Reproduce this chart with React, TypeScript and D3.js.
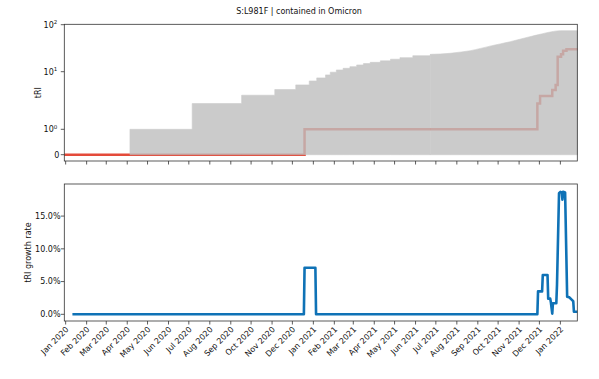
import React from 'react';
import * as d3 from 'd3';

// values
const parseDay = d3.utcParse('%Y-%m-%d');

// grey band: total tRI, stepped part (daily counts)
const greyStepDates = [
  '2020-04-05', '2020-07-06', '2020-09-17', '2020-11-05', '2020-12-06', '2020-12-26',
  '2021-01-06', '2021-01-19', '2021-01-26', '2021-02-04', '2021-02-14', '2021-02-24',
  '2021-03-06', '2021-03-16', '2021-03-26', '2021-04-10', '2021-04-25', '2021-05-09',
  '2021-05-28', '2021-06-23',
];
const greyStepValues = [
  1, 2.8, 3.9, 4.9, 5.9, 6.9,
  7.8, 8.8, 9.8, 10.9, 11.8, 12.8,
  13.9, 14.9, 15.8, 17, 18.4, 19.9,
  21.9, 23.4,
];
// grey band: smooth part
const greySmoothDates = [
  '2021-06-23', '2021-07-22', '2021-08-05', '2021-08-21', '2021-09-05', '2021-09-19',
  '2021-10-04', '2021-10-19', '2021-11-02', '2021-11-17', '2021-11-30', '2021-12-12',
  '2021-12-22', '2022-01-01', '2022-01-26',
];
const greySmoothValues = [
  23.4, 24.6, 26, 28, 31.3, 35,
  39, 43.5, 49, 55.5, 61.5, 67.6,
  72, 74.5, 74.5,
];

// red line: tRI of the mutation
const redDates = [
  '2019-12-30', '2020-12-19', '2021-11-28', '2021-12-02', '2021-12-20', '2021-12-25',
  '2021-12-28', '2022-01-02', '2022-01-05', '2022-01-10', '2022-01-26',
];
const redValues = [0, 1, 2.8, 3.8, 4.8, 5.9, 20.8, 23.4, 28, 30, 30];

// blue line: tRI growth rate (%)
const growthDates = [
  '2020-01-11', '2020-12-18', '2020-12-19', '2021-01-04', '2021-01-05', '2021-11-28',
  '2021-11-29', '2021-12-05', '2021-12-06', '2021-12-13', '2021-12-14', '2021-12-17',
  '2021-12-18', '2021-12-20', '2021-12-21', '2021-12-26', '2021-12-27', '2021-12-30',
  '2022-01-01', '2022-01-03', '2022-01-04', '2022-01-05', '2022-01-08', '2022-01-11',
  '2022-01-14', '2022-01-18', '2022-01-20', '2022-01-21', '2022-01-26',
];
const growthValues = [
  0, 0, 7.1, 7.1, 0, 0,
  3.5, 3.5, 6.0, 6.0, 2.4, 2.4,
  1.8, 0.1, 1.7, 1.7, 4.5, 18.5,
  18.7, 18.6, 17.5, 18.7, 18.6, 2.7,
  2.6, 2.2, 2.0, 0.4, 0.4,
];

const topTicks = [0, 1, 10, 100];
const topTickExp = ['', '0', '1', '2'];
const growthTicks = [0, 5, 10, 15];

const W = 599;
const H = 379;
const left = 64.3;
const right = 577.3;
const top1 = 24.3, bottom1 = 161;
const top2 = 184, bottom2 = 321;
const font = 'DejaVu Sans, sans-serif';
const fs = 8;
const axisColor = '#333';

type Pt = { date: Date; value: number };
const toSeries = (dates: string[], vals: number[]): Pt[] =>
  dates.map((d, i) => ({ date: parseDay(d) as Date, value: vals[i] }));

// y of the upper panel: linear below 1, logarithmic above
const tri = (v: number) => (v < 1 ? v - 1 : Math.log10(v));

export default function App() {
  const greyStep = toSeries(greyStepDates, greyStepValues);
  const greySmooth = toSeries(greySmoothDates, greySmoothValues);
  const red = toSeries(redDates, redValues);
  const growth = toSeries(growthDates, growthValues);

  const x = d3.scaleUtc()
    .domain([parseDay('2019-12-30') as Date, parseDay('2022-01-26') as Date])
    .range([left, right]);

  const yTop = d3.scaleLinear().domain([-1, 0, 1, 2]).range([154.7, 129.3, 71.7, 24.7]);
  const yBot = d3.scaleLinear().domain([-1.02, 19.9]).range([bottom2, top2]);

  const area = d3.area<Pt>()
    .x(d => x(d.date))
    .y0(yTop(tri(0)))
    .y1(d => yTop(tri(d.value)));

  const redLine = d3.line<Pt>()
    .x(d => x(d.date))
    .y(d => yTop(tri(d.value)))
    .curve(d3.curveStepAfter);

  const blueLine = d3.line<Pt>()
    .x(d => x(d.date))
    .y(d => yBot(d.value));

  const months = d3.utcMonth.range(parseDay('2020-01-01') as Date, parseDay('2022-01-02') as Date);
  const fmt = d3.utcFormat('%b %Y');

  return (
    <svg width={W} height={H} style={{ position: 'absolute', left: 0, top: 0, background: '#fff' }}
      fontFamily={font} fontSize={fs}>
      <text x={299} y={13.5} textAnchor="middle" fill="#111">S:L981F | contained in Omicron</text>

      {/* upper panel */}
      <path d={redLine(red) || ''} fill="none" stroke="#e44b3a" strokeWidth={2.5} />
      <g opacity={0.8}>
        <path d={area.curve(d3.curveStepAfter)(greyStep) || ''} fill="#bfbfbf" stroke="#bfbfbf" strokeWidth={0.6} />
        <path d={area.curve(d3.curveMonotoneX)(greySmooth) || ''} fill="#bfbfbf" stroke="#bfbfbf" strokeWidth={0.6} />
      </g>
      <rect x={left} y={top1} width={right - left} height={bottom1 - top1} fill="none" stroke={axisColor} strokeWidth={0.8} />
      {topTicks.map((t, i) => (
        <g key={t} transform={`translate(0,${yTop(tri(t))})`}>
          <line x1={left - 3.5} x2={left} stroke={axisColor} strokeWidth={0.8} />
          {topTickExp[i] === '' ? (
            <text x={left - 5} dy="0.35em" textAnchor="end" fill="#111">0</text>
          ) : (
            <text x={left - 7} dy="0.35em" textAnchor="end" fill="#111">
              10<tspan fontSize={5.5} dy="-3.2">{topTickExp[i]}</tspan>
            </text>
          )}
        </g>
      ))}
      {months.map(m => (
        <line key={+m} x1={x(m)} x2={x(m)} y1={bottom1} y2={bottom1 + 3.5} stroke={axisColor} strokeWidth={0.8} />
      ))}
      <text transform={`translate(38,${(top1 + bottom1) / 2}) rotate(-90)`} textAnchor="middle" dy="0.35em" fill="#111">tRI</text>

      {/* lower panel */}
      <path d={blueLine(growth) || ''} fill="none" stroke="#0f72b6" strokeWidth={2.6} strokeLinejoin="round" />
      <rect x={left} y={top2} width={right - left} height={bottom2 - top2} fill="none" stroke={axisColor} strokeWidth={0.8} />
      {growthTicks.map(t => (
        <g key={t} transform={`translate(0,${yBot(t)})`}>
          <line x1={left - 3.5} x2={left} stroke={axisColor} strokeWidth={0.8} />
          <text x={left - 3.8} dy="0.35em" textAnchor="end" fill="#111">{d3.format('.1f')(t)}%</text>
        </g>
      ))}
      {months.map(m => (
        <g key={+m}>
          <line x1={x(m)} x2={x(m)} y1={bottom2} y2={bottom2 + 3.5} stroke={axisColor} strokeWidth={0.8} />
          <text transform={`translate(${x(m) + 1.5},${bottom2 + 7}) rotate(-45)`} textAnchor="end" dy="0.35em" fill="#111">
            {fmt(m)}
          </text>
        </g>
      ))}
      <text transform={`translate(28,${(top2 + bottom2) / 2}) rotate(-90)`} textAnchor="middle" dy="0.35em" fill="#111">tRI growth rate</text>
    </svg>
  );
}
